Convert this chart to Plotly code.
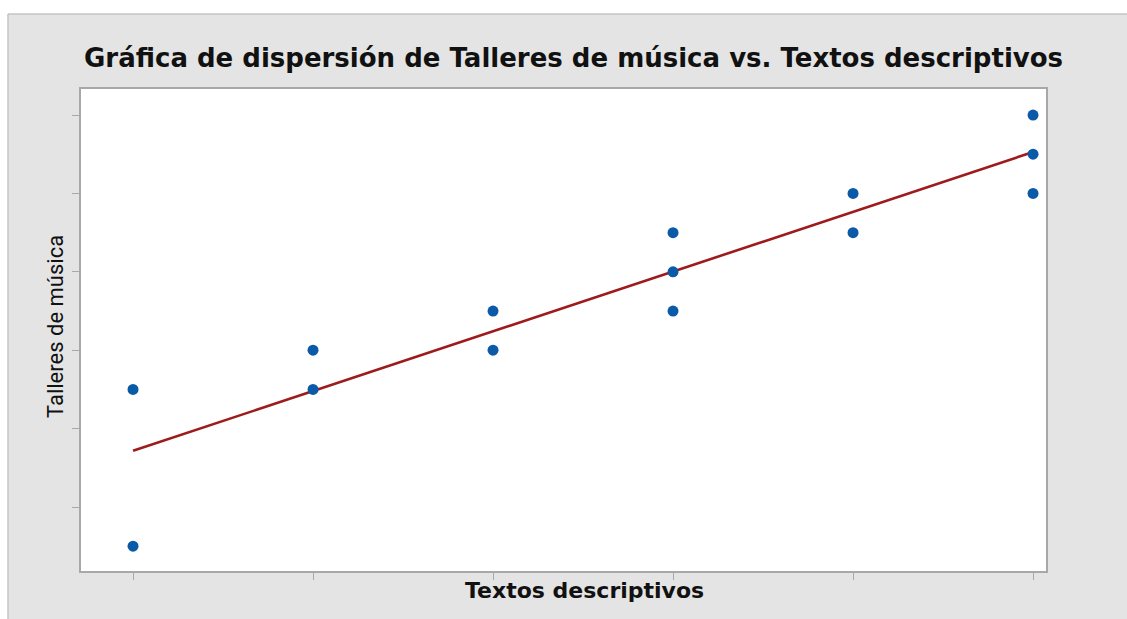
import numpy as np
import plotly.graph_objects as go

# Data (tick units)
textos = [1, 1, 2, 2, 3, 3, 4, 4, 4, 5, 5, 6, 6, 6]
talleres = [2.5, 0.5, 3.0, 2.5, 3.5, 3.0, 4.5, 4.0, 3.5, 5.0, 4.5, 6.0, 5.5, 5.0]
x_ticks = [1, 2, 3, 4, 5, 6]
y_ticks = [1, 2, 3, 4, 5, 6]

title = "Gráfica de dispersión de Talleres de música vs. Textos descriptivos"
x_title = "Textos descriptivos"
y_title = "Talleres de música"

W, H = 1127, 619
L, T, PW, PH = 81, 89, 965, 482

slope, intercept = np.polyfit(textos, talleres, 1)
fx = [min(textos), max(textos)]
fy = [slope * v + intercept for v in fx]

fig = go.Figure()
fig.add_trace(go.Scatter(x=fx, y=fy, mode="lines",
                         line=dict(color="#9e1b1b", width=2.6),
                         showlegend=False, hoverinfo="skip"))
fig.add_trace(go.Scatter(x=textos, y=talleres, mode="markers",
                         marker=dict(color="#0a5aa8", size=11, line=dict(width=0)),
                         showlegend=False))

def px2paper_x(px):
    return (px - L) / PW

def px2paper_y(py):
    return (T + PH - py) / PH

GRAY = "#e4e4e4"
# white strips at top and left
fig.add_shape(type="rect", xref="paper", yref="paper",
              x0=px2paper_x(-5), x1=px2paper_x(1140),
              y0=px2paper_y(14), y1=px2paper_y(-5),
              fillcolor="white", line=dict(width=0), layer="below")
fig.add_shape(type="rect", xref="paper", yref="paper",
              x0=px2paper_x(-5), x1=px2paper_x(8),
              y0=px2paper_y(630), y1=px2paper_y(-5),
              fillcolor="white", line=dict(width=0), layer="below")
# border lines of the gray panel
fig.add_shape(type="line", xref="paper", yref="paper",
              x0=px2paper_x(8), x1=px2paper_x(1140),
              y0=px2paper_y(14), y1=px2paper_y(14),
              line=dict(color="#c4c4c4", width=1.5), layer="below")
fig.add_shape(type="line", xref="paper", yref="paper",
              x0=px2paper_x(8), x1=px2paper_x(8),
              y0=px2paper_y(630), y1=px2paper_y(14),
              line=dict(color="#c4c4c4", width=1.5), layer="below")

fig.add_annotation(text=title, xref="paper", yref="paper",
                   x=px2paper_x(573), y=px2paper_y(58),
                   xanchor="center", yanchor="middle", showarrow=False,
                   font=dict(family="DejaVu Sans", size=26, color="#111111", weight="bold"))
fig.add_annotation(text=x_title, xref="paper", yref="paper",
                   x=px2paper_x(584), y=px2paper_y(590),
                   xanchor="center", yanchor="middle", showarrow=False,
                   font=dict(family="DejaVu Sans", size=22, color="#111111", weight="bold"))
fig.add_annotation(text=y_title, xref="paper", yref="paper",
                   x=px2paper_x(55), y=px2paper_y(327), textangle=-90,
                   xanchor="center", yanchor="middle", showarrow=False,
                   font=dict(family="Liberation Sans Narrow, Roboto", size=22, color="#111111"))

axis_common = dict(showgrid=False, zeroline=False, showticklabels=False,
                   ticks="outside", ticklen=7, tickwidth=1.3, tickcolor="#a8a8a8",
                   showline=True, linecolor="#a8a8a8", linewidth=1.5, mirror=True)

fig.update_xaxes(range=[0.711, 6.072], tickvals=x_ticks, **axis_common)
fig.update_yaxes(range=[0.184, 6.332], tickvals=y_ticks, **axis_common)

fig.update_layout(width=W, height=H,
                  margin=dict(l=L, r=W - L - PW, t=T, b=H - T - PH, autoexpand=False),
                  paper_bgcolor=GRAY, plot_bgcolor="white")

fig.write_html("out.html",
               config={"displayModeBar": False},
               post_script="document.body.style.margin='0';"
                           "document.body.style.overflow='hidden';"
                           "document.documentElement.style.overflow='hidden';")
